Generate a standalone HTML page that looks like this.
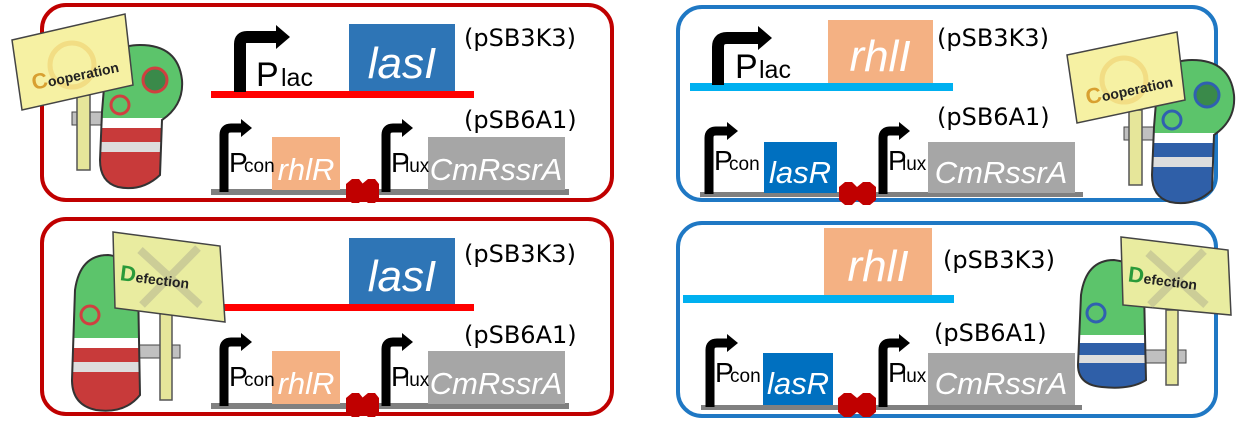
<!DOCTYPE html>
<html><head><meta charset="utf-8"><style>
html,body{margin:0;padding:0;background:#fff;width:1245px;height:425px;overflow:hidden}
svg{display:block}
.p{font-family:"Liberation Sans",sans-serif;fill:#000}
.g{font-family:"Liberation Sans",sans-serif;font-style:italic;fill:#fff}
.v{font-family:"DejaVu Sans","Liberation Sans",sans-serif;fill:#000;font-size:24px}
</style></head><body>
<svg width="1245" height="425" viewBox="0 0 1245 425" xmlns="http://www.w3.org/2000/svg">
<defs>
<clipPath id="cb1"><path d="M105,75 Q108,45 140,45 Q178,45 182,80 Q184,105 162,120 L160,175 Q142,192 118,187 Q100,182 100,160 L102,112 Z"/></clipPath>
<clipPath id="cb2"><path d="M75,290 Q80,255 108,255 Q136,258 138,285 L140,395 Q125,414 96,410 Q72,405 72,380 Z"/></clipPath>
</defs>

<!-- panel borders -->
<rect x="42" y="5" width="570" height="195" rx="24" fill="none" stroke="#c00000" stroke-width="4"/>
<rect x="42" y="219" width="570" height="195" rx="24" fill="none" stroke="#c00000" stroke-width="4"/>
<rect x="678" y="7" width="538" height="193" rx="24" fill="none" stroke="#1f78c4" stroke-width="4"/>
<rect x="678" y="223" width="538" height="193" rx="24" fill="none" stroke="#1f78c4" stroke-width="4"/>

<!-- ===== Panel 1 ===== -->
<rect x="349" y="24" width="106" height="67" fill="#2e75b6"/>
<text x="402" y="78" class="g" font-size="44" text-anchor="middle">lasI</text>
<rect x="211" y="91" width="263" height="7" fill="#ff0000"/>
<path d="M240,92 V44 Q240,37 247,37 H277" fill="none" stroke="#000" stroke-width="12"/>
<polygon points="276,25 290,37 276,49" fill="#000"/>
<text x="256" y="86" class="p" font-size="34">P</text><text x="281" y="86" class="p" font-size="25">lac</text>
<text x="464" y="46" class="v" font-size="25">(pSB3K3)</text>
<text x="464" y="128" class="v" font-size="25">(pSB6A1)</text>
<rect x="211" y="189" width="358" height="6" fill="#808080"/>
<rect x="272" y="137" width="68" height="53" fill="#f4b183"/>
<text x="306" y="180" class="g" font-size="31" text-anchor="middle">rhlR</text>
<rect x="428" y="137" width="137" height="53" fill="#a6a6a6"/>
<text x="496" y="180" class="g" font-size="31" text-anchor="middle">CmRssrA</text>
<path d="M224,192 V135 Q224,128 231,128 H242" fill="none" stroke="#000" stroke-width="9"/>
<polygon points="241,119 252,128 241,137" fill="#000"/>
<text x="229" y="172" class="p" font-size="28">P</text><text x="244" y="172" class="p" font-size="19">con</text>
<path d="M386,192 V135 Q386,128 393,128 H403" fill="none" stroke="#000" stroke-width="9"/>
<polygon points="402,119 413,128 402,137" fill="#000"/>
<text x="391" y="172" class="p" font-size="28">P</text><text x="405" y="172" class="p" font-size="19">lux</text>
<polygon points="346,184 352,179 359,179 363,184 363,198 359,203 352,203 346,198" fill="#c00000"/>
<polygon points="362,184 368,179 375,179 379,184 379,198 375,203 368,203 362,198" fill="#c00000"/>

<!-- cartoon 1 -->
<rect x="72" y="112" width="34" height="13" fill="#c0c0c0" stroke="#444"/>
<rect x="77" y="95" width="13" height="75" fill="#e6e69a" stroke="#555" stroke-width="1.5"/>
<g clip-path="url(#cb1)">
<rect x="95" y="40" width="95" height="155" fill="#5cc46b"/>
<rect x="95" y="118" width="95" height="10" fill="#fff"/>
<rect x="95" y="128" width="95" height="14" fill="#c83a3a"/>
<rect x="95" y="142" width="95" height="10" fill="#ddd"/>
<rect x="95" y="152" width="95" height="14" fill="#c83a3a"/>
<rect x="95" y="166" width="95" height="30" fill="#c83a3a"/>
</g>
<path d="M105,75 Q108,45 140,45 Q178,45 182,80 Q184,105 162,120 L160,175 Q142,192 118,187 Q100,182 100,160 L102,112 Z" fill="none" stroke="#333" stroke-width="2"/>
<circle cx="155" cy="80" r="12" fill="#3a8a4a" stroke="#d04040" stroke-width="3"/>
<circle cx="120" cy="105" r="9" fill="none" stroke="#d04040" stroke-width="3"/>
<polygon points="12,40 125,14 133,85 22,110" fill="#f6f1a3" stroke="#444" stroke-width="1.5"/>
<circle cx="72" cy="65" r="22" fill="none" stroke="#f0d070" stroke-width="5" opacity="0.6"/>
<text x="30" y="82" transform="rotate(-12 70 70)" font-family="Liberation Sans,sans-serif" font-weight="bold" font-size="14" fill="#222"><tspan font-size="22" fill="#d8a030">C</tspan>ooperation</text>

<!-- ===== Panel 3 ===== -->
<rect x="349" y="238" width="106" height="66" fill="#2e75b6"/>
<text x="402" y="291" class="g" font-size="44" text-anchor="middle">lasI</text>
<rect x="217" y="304" width="257" height="7" fill="#ff0000"/>
<text x="464" y="262" class="v" font-size="25">(pSB3K3)</text>
<text x="464" y="343" class="v" font-size="25">(pSB6A1)</text>
<rect x="211" y="403" width="358" height="6" fill="#808080"/>
<rect x="272" y="351" width="68" height="53" fill="#f4b183"/>
<text x="306" y="394" class="g" font-size="31" text-anchor="middle">rhlR</text>
<rect x="428" y="351" width="137" height="53" fill="#a6a6a6"/>
<text x="496" y="394" class="g" font-size="31" text-anchor="middle">CmRssrA</text>
<path d="M224,406 V349 Q224,342 231,342 H242" fill="none" stroke="#000" stroke-width="9"/>
<polygon points="241,333 252,342 241,351" fill="#000"/>
<text x="229" y="386" class="p" font-size="28">P</text><text x="244" y="386" class="p" font-size="19">con</text>
<path d="M386,406 V349 Q386,342 393,342 H403" fill="none" stroke="#000" stroke-width="9"/>
<polygon points="402,333 413,342 402,351" fill="#000"/>
<text x="391" y="386" class="p" font-size="28">P</text><text x="405" y="386" class="p" font-size="19">lux</text>
<polygon points="346,398 352,393 359,393 363,398 363,412 359,417 352,417 346,412" fill="#c00000"/>
<polygon points="362,398 368,393 375,393 379,398 379,412 375,417 368,417 362,412" fill="#c00000"/>

<!-- cartoon 3 -->
<rect x="134" y="345" width="46" height="13" fill="#c0c0c0" stroke="#444"/>
<g clip-path="url(#cb2)">
<rect x="65" y="250" width="80" height="170" fill="#5cc46b"/>
<rect x="65" y="338" width="80" height="10" fill="#fff"/>
<rect x="65" y="348" width="80" height="14" fill="#c83a3a"/>
<rect x="65" y="362" width="80" height="10" fill="#ddd"/>
<rect x="65" y="372" width="80" height="14" fill="#c83a3a"/>
<rect x="65" y="386" width="80" height="35" fill="#c83a3a"/>
</g>
<path d="M75,290 Q80,255 108,255 Q136,258 138,285 L140,395 Q125,414 96,410 Q72,405 72,380 Z" fill="none" stroke="#333" stroke-width="2"/>
<circle cx="90" cy="315" r="9" fill="none" stroke="#d04040" stroke-width="3"/>
<rect x="160" y="305" width="12" height="95" fill="#e6e69a" stroke="#555" stroke-width="1.5"/>
<polygon points="113,232 220,246 225,322 115,308" fill="#e9eca0" stroke="#444" stroke-width="1.5"/>
<path d="M140,250 L200,305 M198,248 L142,305" stroke="#b0b090" stroke-width="8" opacity="0.5"/>
<text x="120" y="286" transform="rotate(7 168 278)" font-family="Liberation Sans,sans-serif" font-weight="bold" font-size="14" fill="#222"><tspan font-size="22" fill="#2a9a3a">D</tspan>efection</text>

<!-- ===== Panel 2 ===== -->
<rect x="828" y="20" width="105" height="63" fill="#f4b183"/>
<text x="880" y="71" class="g" font-size="44" text-anchor="middle">rhlI</text>
<rect x="690" y="83" width="263" height="8" fill="#00b0f0"/>
<path d="M718,85 V47 Q718,38 727,38 H759" fill="none" stroke="#000" stroke-width="12"/>
<polygon points="758,26 772,38 758,50" fill="#000"/>
<text x="735" y="78" class="p" font-size="34">P</text><text x="759" y="78" class="p" font-size="25">lac</text>
<text x="937" y="46" class="v" font-size="25">(pSB3K3)</text>
<text x="937" y="125" class="v" font-size="25">(pSB6A1)</text>
<rect x="700" y="192" width="383" height="5" fill="#808080"/>
<rect x="764" y="142" width="73" height="51" fill="#0070c0"/>
<text x="800" y="183" class="g" font-size="31" text-anchor="middle">lasR</text>
<rect x="928" y="142" width="147" height="51" fill="#a6a6a6"/>
<text x="1001" y="183" class="g" font-size="31" text-anchor="middle">CmRssrA</text>
<path d="M709,194 V138 Q709,131 716,131 H728" fill="none" stroke="#000" stroke-width="9"/>
<polygon points="727,122 738,131 727,140" fill="#000"/>
<text x="714" y="170" class="p" font-size="28">P</text><text x="729" y="170" class="p" font-size="19">con</text>
<path d="M883,194 V138 Q883,131 890,131 H900" fill="none" stroke="#000" stroke-width="9"/>
<polygon points="899,122 910,131 899,140" fill="#000"/>
<text x="888" y="170" class="p" font-size="28">P</text><text x="902" y="170" class="p" font-size="19">lux</text>
<polygon points="839,187 845,182 852,182 857,187 857,200 852,205 845,205 839,200" fill="#c00000"/>
<polygon points="857,187 863,182 870,182 876,187 876,200 870,205 863,205 857,200" fill="#c00000"/>

<!-- cartoon 2 -->
<g transform="translate(1052,15)">
<clipPath id="cb3"><path d="M105,75 Q108,45 140,45 Q178,45 182,80 Q184,105 162,120 L160,175 Q142,192 118,187 Q100,182 100,160 L102,112 Z"/></clipPath>
<rect x="72" y="112" width="34" height="13" fill="#c0c0c0" stroke="#444"/>
<rect x="77" y="95" width="13" height="75" fill="#e6e69a" stroke="#555" stroke-width="1.5"/>
<g clip-path="url(#cb3)">
<rect x="95" y="40" width="95" height="155" fill="#5cc46b"/>
<rect x="95" y="118" width="95" height="10" fill="#fff"/>
<rect x="95" y="128" width="95" height="14" fill="#2f5fa8"/>
<rect x="95" y="142" width="95" height="10" fill="#ddd"/>
<rect x="95" y="152" width="95" height="14" fill="#2f5fa8"/>
<rect x="95" y="166" width="95" height="30" fill="#2f5fa8"/>
</g>
<path d="M105,75 Q108,45 140,45 Q178,45 182,80 Q184,105 162,120 L160,175 Q142,192 118,187 Q100,182 100,160 L102,112 Z" fill="none" stroke="#333" stroke-width="2"/>
<circle cx="155" cy="80" r="12" fill="#3a8a4a" stroke="#3060b0" stroke-width="3"/>
<circle cx="120" cy="105" r="9" fill="none" stroke="#3060b0" stroke-width="3"/>
<polygon points="15,40 125,17 133,85 25,108" fill="#f6f1a3" stroke="#444" stroke-width="1.5"/>
<circle cx="72" cy="65" r="22" fill="none" stroke="#f0d070" stroke-width="5" opacity="0.6"/>
<text x="32" y="82" transform="rotate(-12 70 70)" font-family="Liberation Sans,sans-serif" font-weight="bold" font-size="14" fill="#222"><tspan font-size="22" fill="#d8a030">C</tspan>ooperation</text>
</g>

<!-- ===== Panel 4 ===== -->
<rect x="824" y="228" width="108" height="67" fill="#f4b183"/>
<text x="878" y="281" class="g" font-size="44" text-anchor="middle">rhlI</text>
<rect x="683" y="295" width="271" height="8" fill="#00b0f0"/>
<text x="943" y="268" class="v" font-size="25">(pSB3K3)</text>
<text x="934" y="341" class="v" font-size="25">(pSB6A1)</text>
<rect x="701" y="405" width="381" height="5" fill="#808080"/>
<rect x="763" y="353" width="70" height="52" fill="#0070c0"/>
<text x="798" y="394" class="g" font-size="31" text-anchor="middle">lasR</text>
<rect x="928" y="353" width="147" height="52" fill="#a6a6a6"/>
<text x="1001" y="394" class="g" font-size="31" text-anchor="middle">CmRssrA</text>
<path d="M710,407 V350 Q710,343 717,343 H728" fill="none" stroke="#000" stroke-width="9"/>
<polygon points="727,334 738,343 727,352" fill="#000"/>
<text x="715" y="382" class="p" font-size="28">P</text><text x="730" y="382" class="p" font-size="19">con</text>
<path d="M883,407 V350 Q883,343 890,343 H900" fill="none" stroke="#000" stroke-width="9"/>
<polygon points="899,334 910,343 899,352" fill="#000"/>
<text x="888" y="382" class="p" font-size="28">P</text><text x="902" y="382" class="p" font-size="19">lux</text>
<polygon points="838,398 844,393 851,393 857,398 857,412 851,417 844,417 838,412" fill="#c00000"/>
<polygon points="857,398 863,393 870,393 876,398 876,412 870,417 863,417 857,412" fill="#c00000"/>

<!-- cartoon 4 -->
<g transform="translate(1006,5)">
<clipPath id="cb4"><path d="M75,290 Q80,255 108,255 Q136,258 138,285 L140,375 Q125,385 96,382 Q72,380 72,360 Z"/></clipPath>
<rect x="134" y="345" width="46" height="13" fill="#c0c0c0" stroke="#444"/>
<g clip-path="url(#cb4)">
<rect x="65" y="250" width="80" height="170" fill="#5cc46b"/>
<rect x="65" y="330" width="80" height="8" fill="#fff"/>
<rect x="65" y="338" width="80" height="12" fill="#2f5fa8"/>
<rect x="65" y="350" width="80" height="8" fill="#ddd"/>
<rect x="65" y="358" width="80" height="30" fill="#2f5fa8"/>
</g>
<path d="M75,290 Q80,255 108,255 Q136,258 138,285 L140,375 Q125,385 96,382 Q72,380 72,360 Z" fill="none" stroke="#333" stroke-width="2"/>
<circle cx="90" cy="308" r="9" fill="none" stroke="#3060b0" stroke-width="3"/>
<rect x="160" y="305" width="12" height="75" fill="#e6e69a" stroke="#555" stroke-width="1.5"/>
<polygon points="115,232 222,245 225,310 117,300" fill="#e9eca0" stroke="#444" stroke-width="1.5"/>
<path d="M142,248 L200,300 M198,246 L144,300" stroke="#b0b090" stroke-width="8" opacity="0.5"/>
<text x="122" y="282" transform="rotate(7 168 274)" font-family="Liberation Sans,sans-serif" font-weight="bold" font-size="14" fill="#222"><tspan font-size="22" fill="#2a9a3a">D</tspan>efection</text>
</g>
</svg>
</body></html>
